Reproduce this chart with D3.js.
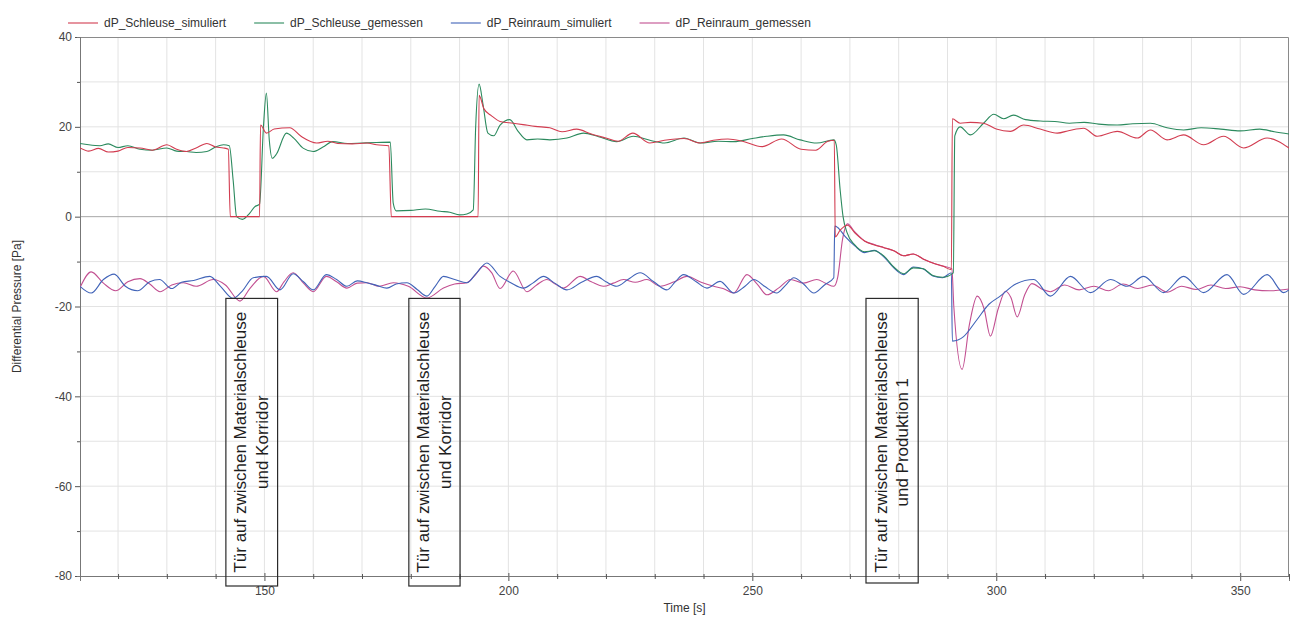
<!DOCTYPE html>
<html>
<head>
<meta charset="utf-8">
<script src="https://cdn.jsdelivr.net/npm/d3@7"></script>
<style>
  body { margin: 0; background: #fff; }
  text { font-family: "Liberation Sans Narrow", "Arial Narrow", "Liberation Sans", Arial, sans-serif; }
</style>
</head>
<body>
<div id="chart"></div>
<script>
// series, [time s, pressure Pa]
var schleuseSimuliert = [[112.2,15.3],[114,14.6],[116,15.2],[118,14.4],[120,14.6],[122,15.4],[124.5,15.3],[127,14.8],[130,16.0],[132,15.0],[134,14.5],[136,15.3],[138.2,16.3],[140,15.5],[141.6,15.3],[142.6,15.0],[143.0,0],[149.0,0],[149.2,20.4],[150.4,18.6],[152,19.5],[155.2,19.8],[157.5,17.9],[160.7,16.4],[163,16.8],[165,16.3],[168,16.2],[171,16.4],[173,16.0],[175.5,15.8],[176.0,0],[193.8,0],[194.0,27],[195,24],[196.5,22.5],[198.3,21.2],[201,20.8],[203,20.5],[205.5,20.1],[208.5,19.8],[211,18.9],[214,19.5],[217,18.4],[220,17.5],[222.5,16.8],[225.5,18.6],[229,16.4],[232,17],[236,17.4],[239.3,16.4],[242,17],[245,17.3],[248,16.8],[252,15.6],[256,17.3],[260,15.0],[263,14.8],[265.5,16.8],[266.8,17.0],[267.0,-4.5],[268,-3.0],[269.5,-1.9],[271,-3.6],[273,-5.4],[275,-6.3],[277,-6.9],[279,-7.6],[281,-8.7],[283,-8.3],[285,-9.4],[287,-10.3],[289,-11.0],[290.8,-11.8],[291.0,21.8],[292.6,20.8],[294.7,21.0],[297.4,20.8],[300,19.5],[302.9,19.0],[305.6,20.4],[309,19.5],[312.5,18.6],[315,19.2],[317.9,19.7],[320.7,17.9],[324.8,19.0],[328.9,17.5],[331.6,19.3],[335,17.1],[338.4,18.2],[342.5,16.0],[346.6,17.9],[350.7,15.3],[355.5,17.5],[360,15.3]];

var schleuseGemessen = [[112.2,16.3],[114,16.0],[116.3,15.8],[118,16.2],[120,15.4],[122,15.8],[124.5,15.0],[127,14.8],[130,15.3],[132,14.6],[134.1,14.5],[136,14.3],[138.2,14.5],[140,15.5],[141.6,16.0],[142.8,15.8],[143.6,8],[144.3,0],[145.5,-0.6],[147,0.8],[148,2.2],[149.0,2.8],[149.8,20],[150.4,27.5],[151.0,17],[151.6,13.0],[152.5,14],[154.5,18.6],[156,17.5],[158,15.2],[160,14.5],[162,15.5],[164,16.7],[167,16.3],[170,16.4],[173,16.5],[175.8,16.6],[176.4,3],[177,1.3],[180,1.4],[183,1.7],[186,1.2],[188,1.0],[190,0.4],[191.5,0.6],[192.8,1.5],[193.3,20],[194.0,29.5],[194.8,25],[195.8,18.6],[197,18.0],[198.3,20.4],[200.3,21.6],[202,19],[203.8,17.1],[206,17.3],[208.5,17.1],[212,17.5],[215.4,18.6],[218.5,17.8],[222.2,16.7],[225.6,17.9],[229,17.0],[232,16.4],[236,17.5],[239.3,16.4],[243,16.8],[246.2,16.7],[250,17.4],[253,17.9],[256.4,18.2],[259.8,17.1],[263.2,16.4],[266.7,17.1],[267.2,16],[268,6],[268.6,0],[269.4,-3.5],[271,-6.3],[273,-7.8],[275,-7.6],[277,-8.8],[279,-11.2],[281,-12.7],[283,-11.4],[285,-11.6],[287,-13.1],[289,-13.5],[291.2,-12.5],[291.5,18],[292.6,20],[294.7,18.2],[297.4,20.8],[299.5,22.8],[301.5,21.8],[303.5,22.6],[306,21.6],[309,21.3],[312,21.2],[315,20.8],[318,21.0],[321,20.6],[324.8,20.4],[328,20.7],[331.6,20.8],[335,19.8],[338.4,19.3],[342,19.8],[346,19.5],[350,19.1],[354,19.5],[357,18.9],[360,18.4]];

var reinraumSimuliert = [[112.2,-15.5],[114.5,-17.0],[117,-14.0],[119.2,-12.8],[121.5,-15.5],[124,-16.5],[126.5,-14.5],[128.5,-14.0],[131,-16.0],[133,-14.6],[135.5,-14.2],[138.8,-13.3],[141,-15.5],[143.6,-18.2],[145.5,-16.5],[147.7,-13.6],[150.4,-13.3],[153.2,-16.3],[155.9,-12.7],[158,-14.5],[160,-16.3],[162.7,-12.9],[164.8,-14.0],[166.9,-15.5],[169,-14.3],[171,-14.7],[173,-15.3],[175.1,-15.9],[177,-15.0],[179.2,-14.7],[181.3,-16.2],[183.3,-17.7],[185,-15.5],[186.7,-13.3],[189,-14.0],[191.5,-14.7],[193.5,-12.5],[195.6,-10.3],[198.3,-13.3],[200.5,-14.7],[203.1,-15.9],[205,-14.8],[207.2,-13.3],[209.5,-14.8],[212,-16.3],[215,-14.6],[218.1,-13.3],[220,-14.5],[222.2,-15.5],[224.5,-14.0],[227,-12.5],[229.8,-14.5],[232.5,-16.3],[234.2,-14.5],[235.9,-12.9],[238.5,-14.5],[240.7,-15.9],[243.4,-14.4],[246.2,-17.0],[248.5,-15.5],[250.3,-14.0],[252.5,-15.5],[255,-17.0],[256.8,-15.3],[258.5,-13.6],[260.5,-15.0],[262.6,-17.0],[264.8,-15.2],[266.7,-13.6],[266.9,-2.1],[267.5,-2.4],[269,-4.4],[271,-6.5],[273,-8.0],[275,-7.5],[277,-9.0],[279,-11.4],[281,-12.9],[283,-11.2],[285,-11.6],[287,-13.2],[289,-13.6],[290.8,-12.5],[291.0,-27.7],[293.3,-26.7],[296,-23],[298.5,-19.5],[300.8,-17.7],[304,-15.0],[307.7,-14.0],[311.1,-17.7],[315.2,-13.3],[319.3,-16.9],[323.4,-14.0],[326.8,-15.5],[330.2,-13.3],[334.3,-16.9],[338.4,-13.3],[342.5,-16.9],[347.3,-12.9],[350.7,-17.3],[355.5,-12.9],[358.9,-16.9],[360,-16.3]];

var reinraumGemessen = [[112.2,-15.8],[114.5,-12.3],[117,-14.8],[119.5,-16.5],[122,-14.5],[124.5,-13.8],[126.5,-15.0],[128.6,-16.7],[131,-15.2],[133.4,-14.7],[136,-15.5],[139.5,-14.0],[142,-15.2],[145.0,-18.8],[147,-16.0],[149.8,-13.3],[152.5,-16.7],[154,-14.5],[155.9,-12.5],[158,-14.8],[160,-16.7],[162.7,-13.3],[164.8,-14.5],[166.9,-15.9],[169,-14.8],[171,-14.7],[173.5,-15.5],[176.4,-14.7],[179.5,-15.5],[183.3,-18.1],[186.7,-15.9],[189,-15.0],[191.5,-14.7],[193.2,-13.0],[194.9,-11.0],[196.6,-12.5],[198.3,-16.0],[201.0,-12.1],[203.8,-16.7],[205.8,-15.2],[207.9,-14.0],[209.6,-15.0],[211.3,-15.9],[214.7,-13.3],[217,-14.5],[219.5,-15.5],[221.5,-14.8],[223.6,-14.0],[226,-14.6],[228.4,-14.0],[231.1,-15.5],[234,-14.5],[236.6,-13.3],[239.5,-14.6],[242.1,-15.5],[244,-16.0],[246.2,-17.0],[248.9,-12.9],[251,-15.0],[253.0,-17.4],[255.5,-15.8],[257.8,-14.0],[260.5,-14.8],[263.2,-14.0],[265,-14.8],[266.7,-15.5],[267.5,-13.5],[268.5,-5.0],[269.5,-1.6],[271,-3.4],[273,-5.4],[275,-6.2],[277,-6.9],[279,-7.6],[281,-8.7],[283,-8.3],[285,-9.4],[287,-10.3],[289,-11.0],[290.9,-11.6],[291.3,-20],[293.0,-34.0],[294.5,-24.0],[296.1,-17.7],[297.5,-20.5],[298.8,-26.6],[300.4,-20.5],[301.9,-16.6],[303,-18.0],[304.3,-22.3],[305.8,-17.5],[307.3,-14.9],[309.5,-16.2],[311.1,-16.7],[314,-15.2],[317,-16.3],[320,-15.5],[323,-16.5],[326,-15.0],[329,-16.0],[332,-15.2],[335,-16.8],[338,-15.5],[341,-16.2],[344,-15.2],[347,-16.0],[350,-15.6],[353,-16.3],[356,-16.5],[360,-16.1]];

var seriesNames = ["dP_Schleuse_simuliert", "dP_Schleuse_gemessen", "dP_Reinraum_simuliert", "dP_Reinraum_gemessen"];
var seriesColors = ["#d23c50", "#2c8a5e", "#4063b8", "#c24f91"];

var xTicks = [150, 200, 250, 300, 350];
var yTicks = [-80, -60, -40, -20, 0, 20, 40];

// door events (time window of each note box)
var doorStart = [142.1, 179.6, 273.3];
var doorEnd = [152.7, 190.1, 284.0];
var doorText = [
  ["Tür auf zwischen Materialschleuse", "und Korridor"],
  ["Tür auf zwischen Materialschleuse", "und Korridor"],
  ["Tür auf zwischen Materialschleuse", "und Produktion 1"]
];

//chart dimensions
var svgWidth = 1290;
var svgHeight = 618;
var margin = { top: 37, right: 1, bottom: 42, left: 80 };
var chartWidth = svgWidth - margin.left - margin.right;
var chartHeight = svgHeight - margin.top - margin.bottom;

var svg = d3.select("#chart").append("svg")
  .attr("width", svgWidth)
  .attr("height", svgHeight);

var chartGroup = svg.append("g")
  .attr("transform", `translate(${margin.left}, ${margin.top})`);

var xScale = d3.scaleLinear().domain([112.2, 360]).range([0, chartWidth]);
var yScale = d3.scaleLinear().domain([-80, 40]).range([chartHeight, 0]);

// grid every 10
chartGroup.append("g").selectAll("line")
  .data(d3.range(120, 360, 10))
  .enter().append("line")
  .attr("x1", d => xScale(d)).attr("x2", d => xScale(d))
  .attr("y1", 0).attr("y2", chartHeight)
  .attr("stroke", "#e3e3e3").attr("stroke-width", 1);

chartGroup.append("g").selectAll("line")
  .data(d3.range(-70, 40, 10).filter(d => d !== 0))
  .enter().append("line")
  .attr("x1", 0).attr("x2", chartWidth)
  .attr("y1", d => yScale(d)).attr("y2", d => yScale(d))
  .attr("stroke", "#e3e3e3").attr("stroke-width", 1);

// zero line
chartGroup.append("line")
  .attr("x1", 0).attr("x2", chartWidth)
  .attr("y1", yScale(0)).attr("y2", yScale(0))
  .attr("stroke", "#a8a8a8").attr("stroke-width", 1);

// frame top and right
chartGroup.append("path")
  .attr("d", `M0,0.5H${chartWidth - 0.5}V${chartHeight}`)
  .attr("fill", "none").attr("stroke", "#8a8a8a");

// axes, plain hyphen for negatives like the original
var leftAxis = d3.axisLeft(yScale).tickValues(yTicks).tickSize(5).tickPadding(3).tickFormat(d => String(d));
var leftMinor = d3.axisLeft(yScale).tickValues(d3.range(-70, 40, 20)).tickSize(3).tickFormat("");
var bottomMinor = d3.axisBottom(xScale).tickValues(d3.range(120, 361, 10).filter(d => xTicks.indexOf(d) < 0)).tickSize(3).tickFormat("");
var bottomAxis = d3.axisBottom(xScale).tickValues(xTicks).tickSize(5).tickPadding(5).tickFormat(d => String(d));

chartGroup.append("g").call(leftAxis);
chartGroup.append("g").call(leftMinor);
var xg = chartGroup.append("g").attr("transform", `translate(0, ${chartHeight})`).call(bottomAxis);
var xm = chartGroup.append("g").attr("transform", `translate(0, ${chartHeight})`).call(bottomMinor);

xg.selectAll(".tick line").attr("y1", -3);
xm.selectAll(".tick line").attr("y1", -2);
chartGroup.selectAll(".domain").attr("stroke", "#777");
chartGroup.selectAll(".tick line").attr("stroke", "#555");
chartGroup.selectAll(".tick text")
  .attr("fill", "#444")
  .style("font-size", "12px")
  .style("font-family", "'Liberation Sans Narrow', 'Arial Narrow', sans-serif");

// clip the curves to the plot
svg.append("defs").append("clipPath").attr("id", "plotClip")
  .append("rect").attr("width", chartWidth).attr("height", chartHeight);

var line = d3.line()
  .x(d => xScale(d[0]))
  .y(d => yScale(d[1]))
  .curve(d3.curveMonotoneX);

var allSeries = [schleuseSimuliert, schleuseGemessen, reinraumSimuliert, reinraumGemessen];
var drawOrder = [3, 2, 1, 0];

chartGroup.append("g").attr("clip-path", "url(#plotClip)")
  .selectAll("path")
  .data(drawOrder)
  .enter().append("path")
  .attr("d", i => line(allSeries[i]))
  .attr("fill", "none")
  .attr("stroke", i => seriesColors[i])
  .attr("stroke-width", 1.1)
  .attr("stroke-linejoin", "round");

// note boxes for the door events
var boxTop = yScale(-18.2);
var boxBottom = chartHeight + 10;

var notes = chartGroup.selectAll(".note")
  .data(doorText)
  .enter().append("g")
  .attr("class", "note");

notes.append("rect")
  .attr("x", (d, i) => xScale(doorStart[i]))
  .attr("y", boxTop)
  .attr("width", (d, i) => xScale(doorEnd[i]) - xScale(doorStart[i]))
  .attr("height", (d, i) => (i === 2 ? boxBottom - 3 : boxBottom) - boxTop)
  .attr("fill", "none")
  .attr("stroke", "#2a2a2a")
  .attr("stroke-width", 1.2);

notes.append("text")
  .attr("transform", (d, i) => {
    var cx = (xScale(doorStart[i]) + xScale(doorEnd[i])) / 2;
    var cy = (boxTop + boxBottom) / 2;
    return `translate(${cx}, ${cy}) rotate(-90)`;
  })
  .attr("text-anchor", "middle")
  .style("font-family", "'Liberation Sans', Arial, sans-serif")
  .style("font-size", "17px")
  .attr("fill", "#1e1e1e")
  .selectAll("tspan")
  .data(d => d)
  .enter().append("tspan")
  .attr("x", 0)
  .attr("y", (d, j) => (j === 0 ? -10.8 : 10.8))
  .attr("dominant-baseline", "central")
  .text(d => d);

// axis titles
svg.append("text")
  .attr("transform", `translate(17, ${margin.top + chartHeight / 2}) rotate(-90)`)
  .attr("text-anchor", "middle")
  .attr("dominant-baseline", "central")
  .style("font-size", "12px")
  .attr("fill", "#333")
  .text("Differential Pressure [Pa]");

svg.append("text")
  .attr("x", margin.left + chartWidth / 2)
  .attr("y", 612)
  .attr("text-anchor", "middle")
  .style("font-size", "12px")
  .attr("fill", "#333")
  .text("Time [s]");

// legend across the top
var legendX = 68;
var legendY = 23;
seriesNames.forEach(function(name, i) {
  svg.append("line")
    .attr("x1", legendX).attr("x2", legendX + 30)
    .attr("y1", legendY).attr("y2", legendY)
    .attr("stroke", seriesColors[i]).attr("stroke-width", 1.1);
  var t = svg.append("text")
    .attr("x", legendX + 36)
    .attr("y", legendY)
    .attr("dominant-baseline", "central")
    .style("font-size", "12px")
    .attr("fill", "#333")
    .text(name);
  legendX += 36 + t.node().getComputedTextLength() + 28;
});
</script>
</body>
</html>
